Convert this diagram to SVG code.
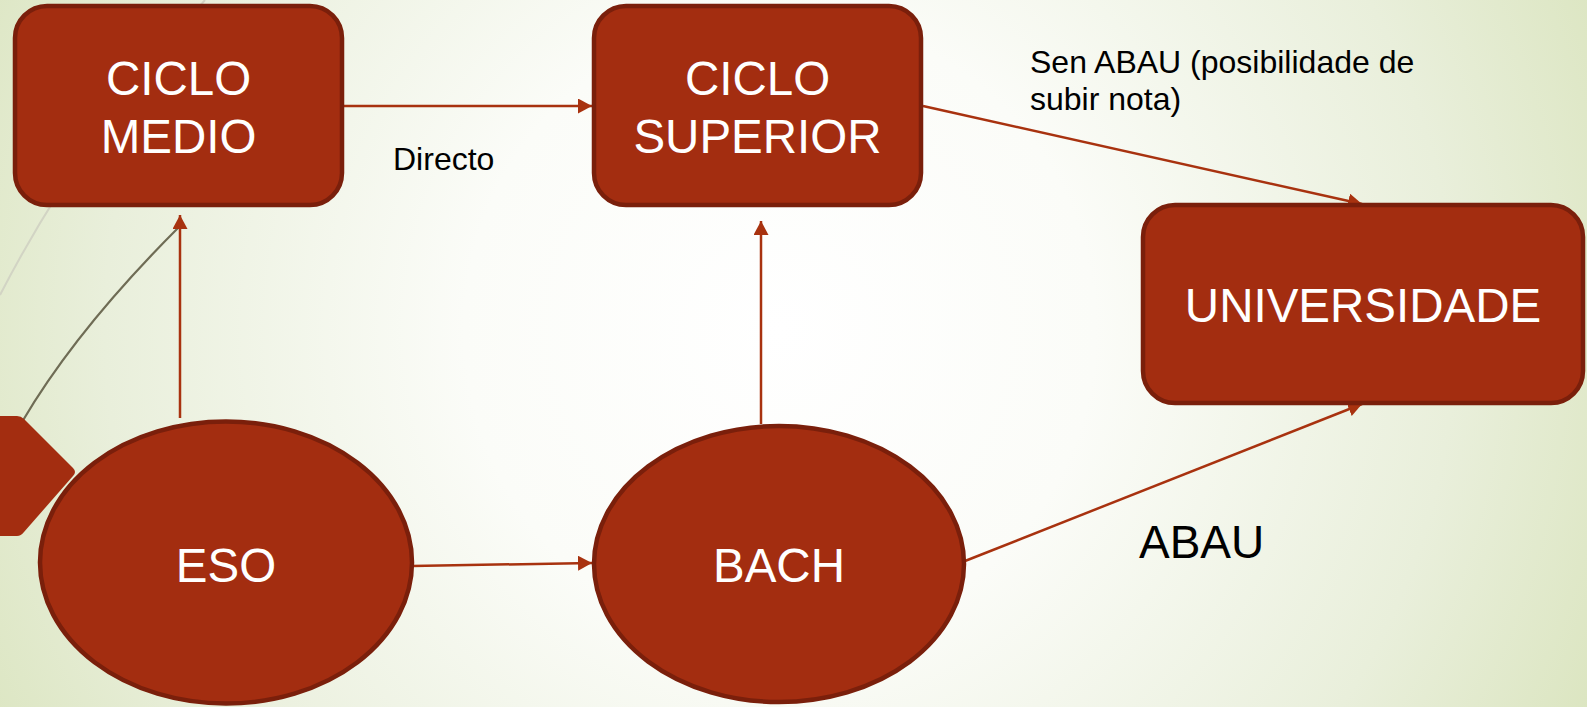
<svg xmlns="http://www.w3.org/2000/svg" width="1587" height="707" viewBox="0 0 1587 707">
<defs>
<radialGradient id="bg" cx="780" cy="330" r="900" gradientUnits="userSpaceOnUse">
<stop offset="0" stop-color="#ffffff"/>
<stop offset="0.35" stop-color="#fbfcf8"/>
<stop offset="0.75" stop-color="#e9efdb"/>
<stop offset="1" stop-color="#dbe5c0"/>
</radialGradient>
<marker id="ah" markerUnits="userSpaceOnUse" markerWidth="16" markerHeight="16" refX="14" refY="7.5" orient="auto">
<path d="M0,0 L14,7.5 L0,15 z" fill="#a8320f"/>
</marker>
<style>
.node{fill:#a32d10;stroke:#7a1f0b;stroke-width:4.5}
.nt{fill:#ffffff;font-family:"Liberation Sans",Arial,sans-serif;font-size:47.5px;text-anchor:middle}
.lbl{fill:#000000;font-family:"Liberation Sans",Arial,sans-serif;font-size:32px}
.conn{stroke:#a8320f;stroke-width:2.5;fill:none;marker-end:url(#ah)}
</style>
</defs>
<rect x="0" y="0" width="1587" height="707" fill="url(#bg)"/>
<g id="decor">
<path d="M205,0 Q80,140 0,295" fill="none" stroke="#d2d4c4" stroke-width="2"/>
<path d="M178,228 Q76,330 22,422" fill="none" stroke="#6f6c55" stroke-width="2.2"/>
<path d="M-5,416 L17,416 Q21,416 24,419 L73,468 Q77,472 73,476 L24,532 Q21,536 17,536 L-5,536 Z" fill="#a32d10"/>
</g>
<g id="connectors">
<line class="conn" x1="344" y1="106" x2="592" y2="106"/>
<line class="conn" x1="180" y1="418" x2="180" y2="215"/>
<line class="conn" x1="761" y1="424" x2="761" y2="221"/>
<line class="conn" x1="923" y1="106" x2="1362" y2="204"/>
<line class="conn" x1="412" y1="566" x2="592" y2="563"/>
<line class="conn" x1="965" y1="561" x2="1362" y2="404"/>
</g>
<g id="ciclo-medio">
<rect class="node" x="15" y="6" width="327" height="199" rx="32"/>
<text class="nt" x="178.5" y="95">CICLO</text>
<text class="nt" x="178.5" y="153">MEDIO</text>
</g>
<g id="ciclo-superior">
<rect class="node" x="594" y="6" width="327" height="199" rx="32"/>
<text class="nt" x="757.5" y="95">CICLO</text>
<text class="nt" x="757.5" y="153">SUPERIOR</text>
</g>
<g id="universidade">
<rect class="node" x="1143" y="205" width="440" height="198" rx="32"/>
<text class="nt" x="1363" y="322">UNIVERSIDADE</text>
</g>
<g id="eso">
<ellipse class="node" cx="226" cy="562.5" rx="186" ry="141"/>
<text class="nt" x="226" y="582">ESO</text>
</g>
<g id="bach">
<ellipse class="node" cx="779" cy="564" rx="185" ry="138"/>
<text class="nt" x="779" y="582">BACH</text>
</g>
<g id="labels">
<text class="lbl" x="393" y="170">Directo</text>
<text class="lbl" x="1030" y="73">Sen ABAU (posibilidade de</text>
<text class="lbl" x="1030" y="110">subir nota)</text>
<text class="lbl" x="1139" y="558" style="font-size:46px">ABAU</text>
</g>
</svg>
